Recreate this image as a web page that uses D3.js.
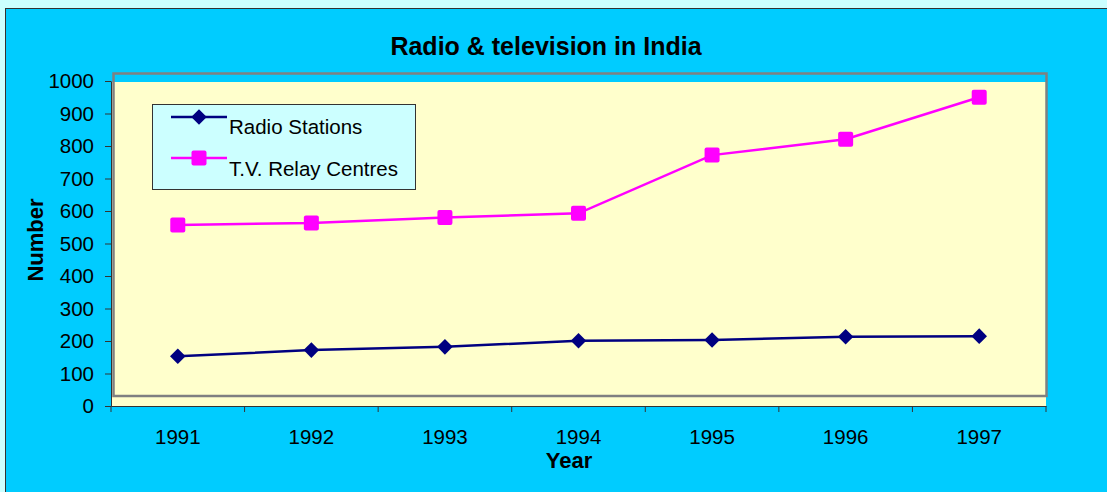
<!DOCTYPE html>
<meta charset="utf-8">
<style>
  body { margin: 0; background: #ccffff; }
  svg { display: block; font-family: "Liberation Sans", Arial, sans-serif; }
  .axis path, .axis line { stroke: #333; }
  .axis text { font-size: 20.5px; fill: #000; }
</style>
<body>
<div id="chart"></div>
<script src="https://d3js.org/d3.v7.min.js"></script>
<script>
// data
const years = ["1991", "1992", "1993", "1994", "1995", "1996", "1997"];
const radioStations = [153, 172, 182, 201, 203, 213, 215];
const tvRelayCentres = [557, 563, 580, 593, 772, 821, 950];
const yTicks = [0, 100, 200, 300, 400, 500, 600, 700, 800, 900, 1000];

const width = 1107, height = 492;

const svg = d3.select("#chart").append("svg")
  .attr("width", width)
  .attr("height", height);

// chart area
svg.append("rect")
  .attr("x", 5.5).attr("y", 8.5)
  .attr("width", 1120).attr("height", 500)
  .attr("fill", "#00ccff")
  .attr("stroke", "#333");

const x = d3.scaleBand().domain(years).range([111, 1046]).padding(0);
const y = d3.scaleLinear().domain([0, 1000]).range([406, 81]);

// plot area fill + the offset grey frame
svg.append("rect")
  .attr("x", x.range()[0]).attr("y", y(1000) + 1)
  .attr("width", x.range()[1] - x.range()[0])
  .attr("height", y(0) - y(1000) - 1)
  .attr("fill", "#ffffcc");

svg.append("rect")
  .attr("x", 113.5).attr("y", 73.5)
  .attr("width", 933).attr("height", 322.5)
  .attr("fill", "none")
  .attr("stroke", "#808080")
  .attr("stroke-width", 2.5);

// title
svg.append("text")
  .attr("x", 546).attr("y", 55)
  .attr("text-anchor", "middle")
  .style("font-size", "25px").style("font-weight", "bold")
  .text("Radio & television in India");

// y axis
svg.append("g")
  .attr("class", "axis")
  .attr("transform", `translate(${x.range()[0]},0)`)
  .call(d3.axisLeft(y).tickValues(yTicks).tickFormat(d3.format("d"))
    .tickSize(6).tickPadding(11).tickSizeOuter(0));

// x axis: labels centred in bands, ticks at band edges
const xg = svg.append("g")
  .attr("class", "axis")
  .attr("transform", `translate(0,${y(0)})`)
  .call(d3.axisBottom(x).tickSize(0).tickSizeOuter(0));
xg.selectAll(".tick text").attr("y", 38).attr("dy", 0);

xg.selectAll(".edge")
  .data(years.map(d => x(d)).concat([x.range()[1]]))
  .join("line")
  .attr("class", "edge")
  .attr("x1", d => d).attr("x2", d => d)
  .attr("y1", 0).attr("y2", 6)
  .attr("stroke", "#333");

// axis titles
svg.append("text")
  .attr("transform", "translate(43,240) rotate(-90)")
  .attr("text-anchor", "middle")
  .style("font-size", "22px").style("font-weight", "bold")
  .text("Number");

svg.append("text")
  .attr("x", 569).attr("y", 468)
  .attr("text-anchor", "middle")
  .style("font-size", "22px").style("font-weight", "bold")
  .text("Year");

// series
const cx = d => x(d) + x.bandwidth() / 2;
const line = d3.line().x(d => cx(d.year)).y(d => y(d.value));

const series = [
  { name: "Radio Stations", color: "#000080", marker: "diamond", width: 2.5,
    values: years.map((yr, i) => ({ year: yr, value: radioStations[i] })) },
  { name: "T.V. Relay Centres", color: "#ff00ff", marker: "square", width: 2.5,
    values: years.map((yr, i) => ({ year: yr, value: tvRelayCentres[i] })) }
];

function drawMarker(g, type, color, px, py) {
  if (type === "diamond") {
    g.append("rect")
      .attr("x", -5.5).attr("y", -5.5).attr("width", 11).attr("height", 11)
      .attr("transform", `translate(${px},${py}) rotate(45)`)
      .attr("fill", color);
  } else {
    g.append("rect")
      .attr("x", px - 7.5).attr("y", py - 7.5).attr("width", 15).attr("height", 15)
      .attr("rx", 2)
      .attr("fill", color);
  }
}

series.forEach(s => {
  svg.append("path")
    .datum(s.values)
    .attr("d", line)
    .attr("fill", "none")
    .attr("stroke", s.color)
    .attr("stroke-width", s.width);
  const g = svg.append("g");
  s.values.forEach(d => drawMarker(g, s.marker, s.color, cx(d.year), y(d.value)));
});

// legend
const legend = svg.append("g");
legend.append("rect")
  .attr("x", 152.5).attr("y", 104.5)
  .attr("width", 263).attr("height", 85)
  .attr("fill", "#ccffff")
  .attr("stroke", "#333");

const legendY = [117, 158];
const textY = [134, 176];
series.forEach((s, i) => {
  legend.append("line")
    .attr("x1", 171).attr("x2", 227)
    .attr("y1", legendY[i]).attr("y2", legendY[i])
    .attr("stroke", s.color).attr("stroke-width", s.width);
  drawMarker(legend, s.marker, s.color, 199, legendY[i]);
  legend.append("text")
    .attr("x", 229).attr("y", textY[i])
    .style("font-size", "20.5px")
    .text(s.name);
});
</script>
</body>
